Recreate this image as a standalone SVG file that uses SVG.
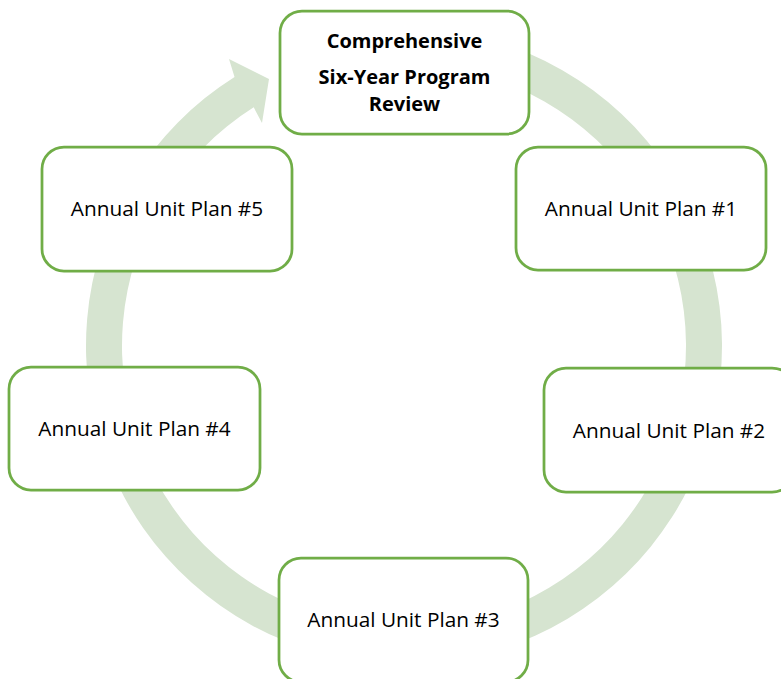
<svg xmlns="http://www.w3.org/2000/svg" width="781" height="679" viewBox="0 0 781 679">
  <style>
    .node rect { fill: #ffffff; stroke: #70ad47; stroke-width: 2.75; }
    .node text { font-family: "Open Sans", "Liberation Sans", sans-serif; font-size: 20.8px; fill: #000000; text-anchor: middle; }
    .node text.b { font-weight: bold; font-size: 20px; }
    .cycle { fill: #d6e4d0; stroke: none; }
  </style>
  <rect x="0" y="0" width="781" height="679" fill="#ffffff"/>
  <g id="connectors">
    <path class="cycle" d="M459.22,32.83 A318,318 0 1 1 234.54,76.91 L229,59 L269,79 L262,123 L253.72,107.37 A282,282 0 1 0 452.97,68.28 Z"/>
  </g>
  <g id="node-review" class="node">
    <rect x="280" y="11" width="249" height="123" rx="22" ry="22"/>
    <text class="b" x="404.5" y="48">Comprehensive</text>
    <text class="b" x="404.5" y="84">Six-Year Program</text>
    <text class="b" x="404.5" y="111">Review</text>
  </g>
  <g id="node-aup1" class="node">
    <rect x="516" y="147" width="250" height="123" rx="22" ry="22"/>
    <text x="641" y="216">Annual Unit Plan #1</text>
  </g>
  <g id="node-aup2" class="node">
    <rect x="544" y="368" width="250" height="124" rx="22" ry="22"/>
    <text x="669" y="438">Annual Unit Plan #2</text>
  </g>
  <g id="node-aup3" class="node">
    <rect x="279" y="558" width="249" height="124" rx="22" ry="22"/>
    <text x="403.5" y="627">Annual Unit Plan #3</text>
  </g>
  <g id="node-aup4" class="node">
    <rect x="9" y="367" width="251" height="123" rx="22" ry="22"/>
    <text x="134.5" y="436">Annual Unit Plan #4</text>
  </g>
  <g id="node-aup5" class="node">
    <rect x="42" y="147" width="250" height="124" rx="22" ry="22"/>
    <text x="167" y="216">Annual Unit Plan #5</text>
  </g>
</svg>
